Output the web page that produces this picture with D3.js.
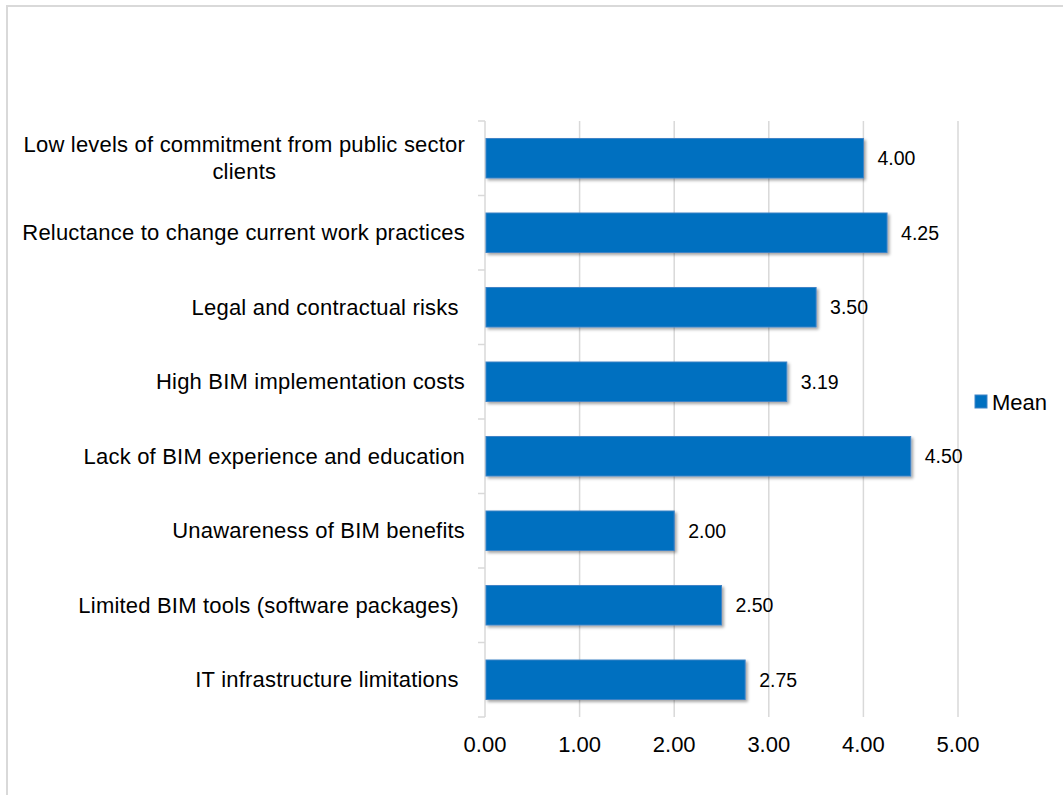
<!DOCTYPE html>
<html>
<head>
<meta charset="utf-8">
<script src="https://cdn.jsdelivr.net/npm/d3@7"></script>
<style>
    body { margin: 0; background: #fff; }
    svg text { font-family: "Liberation Sans", Arial, Helvetica, sans-serif; fill: #000; white-space: pre; }
</style>
</head>
<body>
<div id="chart"></div>
<script>
    const categories = [
        ["Low levels of commitment from public sector", "clients"],
        ["Reluctance to change current work practices"],
        ["Legal and contractual risks "],
        ["High BIM implementation costs"],
        ["Lack of BIM experience and education"],
        ["Unawareness of BIM benefits"],
        ["Limited BIM tools (software packages) "],
        ["IT infrastructure limitations "]
    ];
    const meanValues = [4.00, 4.25, 3.50, 3.19, 4.50, 2.00, 2.50, 2.75];
    const xTicks = [0, 1, 2, 3, 4, 5];
    const seriesName = "Mean";

    const W = 1063, H = 795;
    const plot = { left: 485, right: 958, top: 121, bottom: 717 };
    const barColor = "#0070c0";
    const gridColor = "#d9d9d9";

    const svg = d3.select("#chart")
        .append("svg")
        .attr("width", W)
        .attr("height", H);

    // sombra das barras
    svg.append("defs")
        .append("filter")
        .attr("id", "shadow")
        .attr("x", "-5%").attr("y", "-20%")
        .attr("width", "110%").attr("height", "150%")
        .append("feDropShadow")
        .attr("dx", 2).attr("dy", 2)
        .attr("stdDeviation", 1.5)
        .attr("flood-color", "#000")
        .attr("flood-opacity", 0.35);

    // moldura do gráfico
    svg.append("rect")
        .attr("x", 7).attr("y", 6)
        .attr("width", W + 10).attr("height", H + 10)
        .attr("fill", "#fff")
        .attr("stroke", gridColor)
        .attr("stroke-width", 2);

    const x = d3.scaleLinear()
        .domain([0, 5])
        .range([plot.left, plot.right]);

    const y = d3.scaleBand()
        .domain(d3.range(categories.length))
        .range([plot.top, plot.bottom])
        .paddingInner(0.47)
        .paddingOuter(0.235);

    const yEdges = d3.scaleBand()
        .domain(d3.range(categories.length))
        .range([plot.top, plot.bottom]);

    // linhas de grade
    svg.append("g")
        .selectAll("line")
        .data(xTicks.slice(1))
        .enter()
        .append("line")
        .attr("x1", d => x(d)).attr("x2", d => x(d))
        .attr("y1", plot.top).attr("y2", plot.bottom)
        .attr("stroke", gridColor)
        .attr("stroke-width", 1.5);

    // eixo Y (linha + marcas)
    svg.append("line")
        .attr("x1", plot.left).attr("x2", plot.left)
        .attr("y1", plot.top).attr("y2", plot.bottom)
        .attr("stroke", gridColor)
        .attr("stroke-width", 1.5);

    const edges = d3.range(categories.length).map(i => yEdges(i)).concat([plot.bottom]);
    svg.append("g")
        .selectAll("line")
        .data(edges)
        .enter()
        .append("line")
        .attr("x1", plot.left - 7).attr("x2", plot.left)
        .attr("y1", d => d).attr("y2", d => d)
        .attr("stroke", gridColor)
        .attr("stroke-width", 1.5);

    // barras
    svg.append("g")
        .selectAll("rect")
        .data(meanValues)
        .enter()
        .append("rect")
        .attr("x", x(0) + 1)
        .attr("y", (d, i) => y(i))
        .attr("width", d => x(d) - x(0) - 1)
        .attr("height", y.bandwidth())
        .attr("fill", barColor)
        .attr("stroke", "#3f83c6")
        .attr("stroke-width", 1)
        .attr("filter", "url(#shadow)");

    // rótulos de valor
    svg.append("g")
        .selectAll("text")
        .data(meanValues)
        .enter()
        .append("text")
        .attr("x", d => x(d) + 14)
        .attr("y", (d, i) => y(i) + y.bandwidth() / 2)
        .attr("dy", "0.35em")
        .style("font-size", "19.5px")
        .text(d => d.toFixed(2));

    // rótulos das categorias
    const labelRight = 465;
    const lineH = 27;
    categories.forEach((lines, i) => {
        const cy = yEdges(i) + yEdges.bandwidth() / 2;
        const g = svg.append("g");
        const texts = lines.map((t, j) => g.append("text")
            .attr("y", cy + (j - (lines.length - 1) / 2) * lineH)
            .attr("dy", "0.35em")
            .style("font-size", "22px")
            .style("letter-spacing", "0.2px")
            .text(t));
        const maxW = d3.max(texts, t => t.node().getComputedTextLength());
        texts.forEach(t => t.attr("x", labelRight - maxW / 2).attr("text-anchor", "middle"));
    });

    // rótulos do eixo X
    svg.append("g")
        .selectAll("text")
        .data(xTicks)
        .enter()
        .append("text")
        .attr("x", d => x(d))
        .attr("y", 752)
        .attr("text-anchor", "middle")
        .style("font-size", "22px")
        .text(d => d.toFixed(2));

    // legenda
    const legend = svg.append("g").attr("transform", "translate(975,395)");
    legend.append("rect")
        .attr("width", 12).attr("height", 13)
        .attr("fill", barColor)
        .attr("stroke", "#3f83c6");
    legend.append("text")
        .attr("x", 17)
        .attr("y", 15)
        .style("font-size", "22px")
        .text(seriesName);
</script>
</body>
</html>
